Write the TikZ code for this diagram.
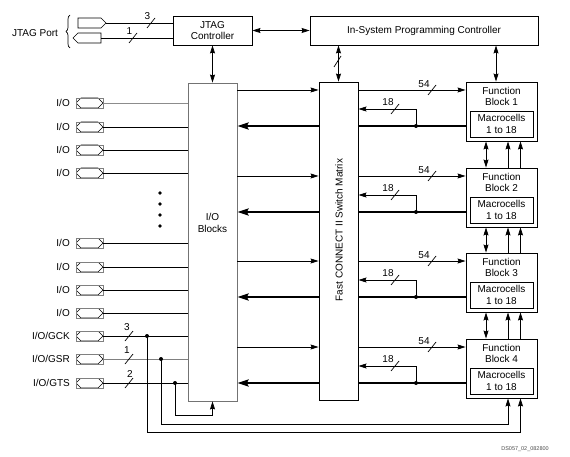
\documentclass[tikz,border=0pt]{standalone}
\usepackage{fontspec}
\setmainfont{Liberation Sans}
\usetikzlibrary{arrows.meta,shapes.symbols,decorations.pathreplacing}

\begin{document}
\begin{tikzpicture}[x=1pt,y=-1pt,font=\fontsize{10}{11.5}\selectfont,
bloc/.style={draw,line width=0.9pt,inner sep=0pt,align=center},
texte/.style={inner sep=0pt,align=center},
patte/.style={draw=black!50,line width=0.7pt,minimum width=27pt,minimum height=10pt,inner sep=0pt,
  path picture={\draw[black,line width=0.7pt] (path picture bounding box.west)
    -- ([xshift=5pt]path picture bounding box.north west) -- ([xshift=-5pt]path picture bounding box.north east)
    -- (path picture bounding box.east) -- ([xshift=-5pt]path picture bounding box.south east)
    -- ([xshift=5pt]path picture bounding box.south west) -- cycle;}},
broche/.style={draw,signal,line width=0.7pt,minimum width=28pt,minimum height=10pt,inner sep=0pt},
trait/.style={line width=0.7pt},
lien/.style={trait,-{Stealth[length=8pt,width=5pt,inset=1pt]}},
deux/.style={trait,{Stealth[length=8pt,width=5pt,inset=1pt]}-{Stealth[length=8pt,width=5pt,inset=1pt]}},
epais/.style={line width=2.2pt},
fleche/.style={epais,-{Stealth[length=11pt,width=7pt,inset=1.5pt]}},
point/.style={circle,fill,inner sep=0pt,minimum size=4pt}]
\useasboundingbox (0,0) rectangle (570,457);

% controleurs
\node[bloc,minimum width=79pt,minimum height=29pt] (jtag) at (212.5,30.5) {JTAG\\Controller};
\node[bloc,minimum width=228pt,minimum height=29pt] (isp) at (424,30.5) {In-System Programming Controller};
\node[bloc,draw=black!55,minimum width=49pt,minimum height=318pt] (io) at (212.5,242) {};
\node[texte] (tio) at (212.5,223) {I/O\\Blocks};
\node[bloc,minimum width=39pt,minimum height=318pt] (sw) at (338.5,241) {};
\node[texte,rotate=90] (tsw) at (339,230) {Fast CONNECT II Switch Matrix};

% port JTAG
\node[texte] (jport) at (35,33) {JTAG Port};
\draw[trait,decorate,decoration={brace,amplitude=4pt}] (70,48) -- (70,15);
\node[broche,signal to=east] (jt1) at (89.5,23) {};
\node[broche,signal to=west] (jt2) at (89.5,38) {};
\draw[trait] (jt1.east) -- (jt1.east -| jtag.west);
\draw[trait] (jt2.east) -- (jt2.east -| jtag.west);
\draw[trait] (147,28) -- (155,18);
\node[texte] (n3j) at (147.5,16) {3};
\draw[trait] (129,43) -- (137,33);
\node[texte] (n1j) at (129.5,31) {1};
\draw[deux] (jtag.east) -- (isp.west);
\draw[deux] (jtag.south) -- (io.north);
\draw[deux] (isp.south -| sw.north) -- (sw.north);
\draw[trait] (334,67) -- (341,56);

% broches I/O
\foreach \n/\y/\c in {p1/103/black!45,p2/127/black,p3/150/black,p4/173/black,
                      p5/243/black,p6/267/black,p7/290/black,p8/313/black}{
  \node[patte] (\n) at (89.5,\y) {};
  \node[texte,anchor=east] (l\n) at (70,\y) {I/O};
  \draw[trait,draw=\c] (\n.east) -- (\n.east -| io.west);
}
\foreach \y in {193,204,215,226} \fill (160,\y) circle (1.8pt);

\node[patte] (gck) at (89.5,336) {};
\node[texte,anchor=east] (lgck) at (70,336) {I/O/GCK};
\node[patte] (gsr) at (89.5,359) {};
\node[texte,anchor=east] (lgsr) at (70,359) {I/O/GSR};
\node[patte] (gts) at (89.5,383) {};
\node[texte,anchor=east] (lgts) at (70,383) {I/O/GTS};
\draw[trait] (gck.east) -- (gck.east -| io.west);
\draw[trait,draw=black!50] (gsr.east) -- (gsr.east -| io.west);
\draw[trait] (gts.east) -- (gts.east -| io.west);
\draw[trait] (125,341) -- (133,331);
\node[texte] (n3) at (127,327) {3};
\draw[trait] (125,364) -- (133,354);
\node[texte] (n1) at (127,350) {1};
\draw[trait] (125,388) -- (133,378);
\node[texte] (n2) at (130,374) {2};
\node[point] (dgck) at (147,336) {};
\node[point] (dgsr) at (161,359) {};
\node[point] (dgts) at (175,383) {};
\draw[lien] (dgts.center) |- (io.south |- 0,415) -- (io.south);

% blocs de fonction
\foreach \i/\t in {1/82,2/168,3/253,4/339}{
  \node[bloc,minimum width=71pt,minimum height=59pt] (fb\i) at (501.5,\t+29.5) {};
  \node[texte] (tfb\i) at (501.5,\t+14.5) {Function\\Block \i};
  \node[bloc,minimum width=63pt,minimum height=26pt] (mc\i) at (501.5,\t+42) {Macrocells\\1 to 18};
  \coordinate (d\i) at (416,\t+44);
  \draw[lien] (io.east |- 0,\t+8) -- (sw.west |- 0,\t+8);
  \draw[lien] (sw.east |- 0,\t+8) -- (fb\i.west |- 0,\t+8);
  \draw[epais] (fb\i.west |- d\i) -- (sw.east |- d\i);
  \draw[fleche] (sw.west |- d\i) -- (io.east |- d\i);
  \node[point] (pt\i) at (d\i) {};
  \draw[lien] (pt\i.center) |- (sw.east |- 0,\t+27);
  \draw[trait] (428,\t+13) -- (436,\t+3);
  \node[texte] (n54\i) at (424,\t+2.5) {54};
  \draw[trait] (391,\t+32) -- (399,\t+22);
  \node[texte] (n18\i) at (388,\t+20.5) {18};
}
\draw[deux] (isp.south -| 496,0) -- (fb1.north -| 496,0);
\foreach \i/\j in {1/2,2/3,3/4}{
  \draw[deux] (fb\i.south -| 486,0) -- (fb\j.north -| 486,0);
  \draw[lien] (fb\j.north -| 508,0) -- (fb\i.south -| 508,0);
  \draw[lien] (fb\j.north -| 520.5,0) -- (fb\i.south -| 520.5,0);
}
\draw[lien] (dgsr.center) |- (508,424) -- (fb4.south -| 508,0);
\draw[lien] (dgck.center) |- (520.5,432) -- (fb4.south -| 520.5,0);

\node[font=\fontsize{5.5}{6}\selectfont,text=black!70] (ref) at (525,449) {DS057\_02\_082800};
\end{tikzpicture}
\end{document}
